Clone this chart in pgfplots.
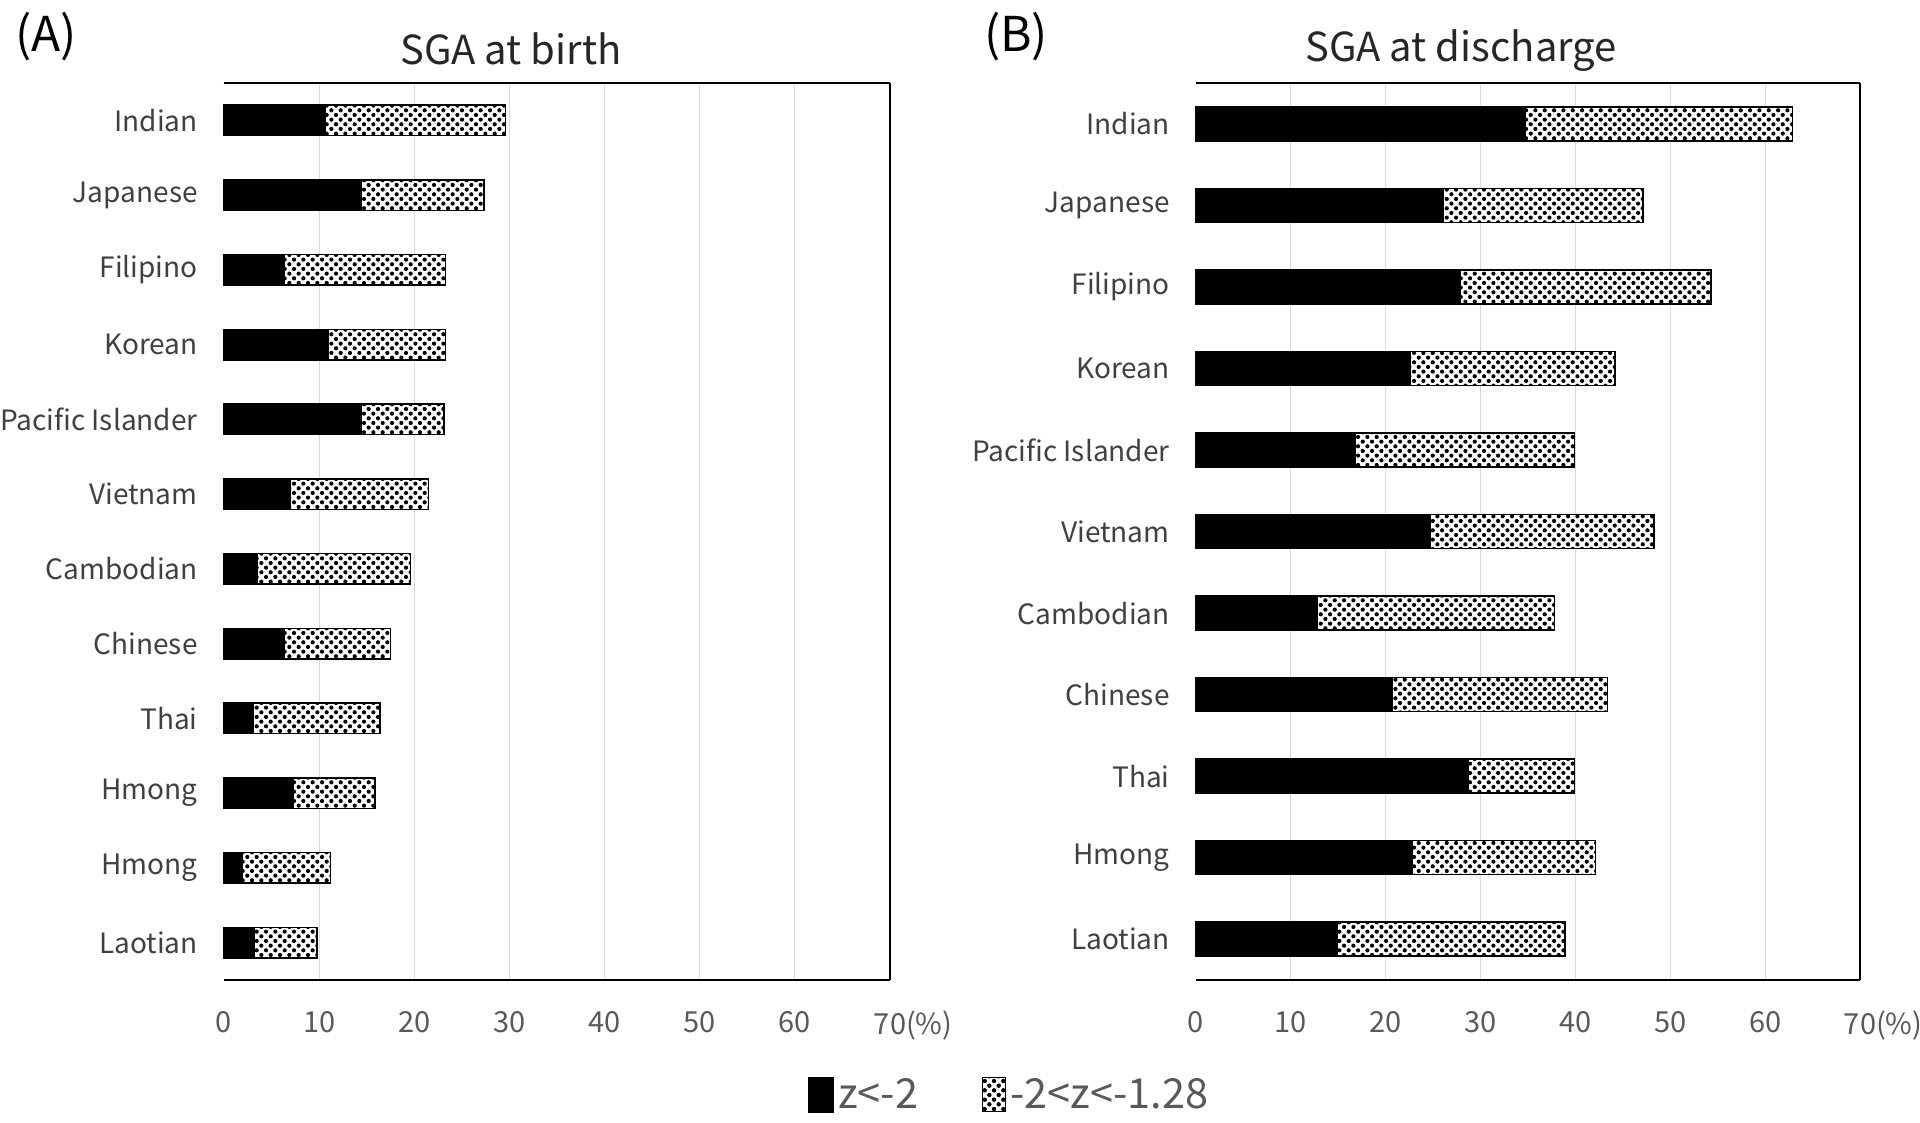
\documentclass[border=0pt]{standalone}
\usepackage{fontspec}
\setmainfont{Noto Sans CJK KR}
\usepackage{pgfplots}
\pgfplotsset{compat=1.18}
\usetikzlibrary{patterns.meta}
\definecolor{tickgray}{HTML}{595959}
\definecolor{catgray}{HTML}{404040}
\definecolor{gridgray}{HTML}{D9D9D9}

\newcommand{\catlab}[2]{\node[anchor=east, inner sep=0pt, font=\fontsize{14}{16}\selectfont, text=catgray] at ([xshift=-13pt]axis cs:0,#1) {#2};}

\pgfplotsset{
  sgapanel/.style={
    xbar stacked,
    scale only axis,
    width=333pt, height=448.5pt,
    anchor=south west,
    xmin=0, xmax=70,
    xtick={10,20,...,60},
    extra x ticks={0,70},
    extra x tick labels={0,70\rlap{(\%)}},
    extra x tick style={grid=none},
    y dir=reverse,
    hide y axis,
    major tick length=0pt,
    xmajorgrids,
    grid style={gridgray, line width=0.6pt},
    axis line style={gridgray, line width=0.6pt},
    xticklabel style={font=\fontsize{14.5}{16}\selectfont, text=tickgray, yshift=-12pt},
    /pgf/number format/assume math mode=true,
    clip=false,
  },
  lowbar/.style={fill=black, draw=black, line width=0.8pt,
    legend image code/.code={\draw[fill=black, draw=black] (0pt,-8.5pt) rectangle (12pt,8.5pt);}},
  midbar/.style={fill=white, draw=black, line width=0.8pt,
    postaction={pattern={Dots[distance=3.3pt, angle=45, radius=1.05pt]}, pattern color=black},
    legend image code/.code={\draw[fill=white, draw=black, line width=0.6pt, postaction={pattern={Dots[distance=3.3pt, angle=45, radius=1.0pt]}, pattern color=black}] (0pt,-8.5pt) rectangle (11.5pt,8.5pt);}},
}

\begin{document}
\begin{tikzpicture}
\useasboundingbox (0,0) rectangle (960pt,561.5pt);

% Panel A
\begin{axis}[sgapanel,
  at={(112pt,71.5pt)},
  ymin=-0.5, ymax=11.5,
  bar width=15.3pt,
  legend columns=2,
  legend cell align=left,
  legend style={at={(axis description cs:0.877,-0.128)}, anchor=west, draw=none, fill=none, inner sep=0pt,
    font=\fontsize{20.7}{23}\selectfont, text=tickgray,
    nodes={inner sep=2pt},
    /tikz/every even column/.append style={column sep=30pt}},
]
\addplot[lowbar] coordinates {
  (10.6,0) (14.4,1) (6.3,2) (11.0,3) (14.4,4) (7.0,5)
  (3.5,6) (6.3,7) (3.1,8) (7.3,9) (1.9,10) (3.2,11)};
\addlegendentry{z<-2}
\addplot[midbar] coordinates {
  (19.0,0) (12.9,1) (17.0,2) (12.3,3) (8.7,4) (14.5,5)
  (16.1,6) (11.2,7) (13.3,8) (8.6,9) (9.3,10) (6.6,11)};
\addlegendentry{-2<z<-1.28}
\catlab{0}{Indian}
\catlab{1}{Japanese}
\catlab{2}{Filipino}
\catlab{3}{Korean}
\catlab{4}{Pacific Islander}
\catlab{5}{Vietnam}
\catlab{6}{Cambodian}
\catlab{7}{Chinese}
\catlab{8}{Thai}
\catlab{9}{Hmong}
\catlab{10}{Hmong}
\catlab{11}{Laotian}
\draw[black, line width=1pt] (axis description cs:0,1) -- (axis description cs:1,1);
\draw[black, line width=1pt] (axis description cs:1,1) -- (axis description cs:1,0);
\draw[black, line width=1pt] (axis description cs:1,0) -- (axis description cs:0,0);
\end{axis}

% Panel B
\begin{axis}[sgapanel,
  at={(598pt,71.5pt)},
  width=332pt,
  ymin=-0.5, ymax=10.5,
  bar width=17pt,
]
\addplot[lowbar] coordinates {
  (34.7,0) (26.1,1) (27.9,2) (22.6,3) (16.8,4) (24.7,5)
  (12.8,6) (20.7,7) (28.7,8) (22.8,9) (14.9,10)};
\addplot[midbar] coordinates {
  (28.2,0) (21.0,1) (26.4,2) (21.6,3) (23.1,4) (23.6,5)
  (25.0,6) (22.7,7) (11.2,8) (19.3,9) (24.0,10)};
\catlab{0}{Indian}
\catlab{1}{Japanese}
\catlab{2}{Filipino}
\catlab{3}{Korean}
\catlab{4}{Pacific Islander}
\catlab{5}{Vietnam}
\catlab{6}{Cambodian}
\catlab{7}{Chinese}
\catlab{8}{Thai}
\catlab{9}{Hmong}
\catlab{10}{Laotian}
\draw[black, line width=1pt] (axis description cs:0,1) -- (axis description cs:1,1);
\draw[black, line width=1pt] (axis description cs:1,1) -- (axis description cs:1,0);
\draw[black, line width=1pt] (axis description cs:1,0) -- (axis description cs:0,0);
\end{axis}

% Titles and panel letters
\node[font=\fontsize{20}{22}\selectfont, text=black!85] at (255.5pt,537pt) {SGA at birth};
\node[font=\fontsize{20}{22}\selectfont, text=black!85] at (730.5pt,536pt) {SGA at discharge};
\node[font=\fontsize{24}{26}\selectfont] at (23pt,543pt) {(A)};
\node[font=\fontsize{24}{26}\selectfont] at (508pt,543pt) {(B)};
\end{tikzpicture}
\end{document}
